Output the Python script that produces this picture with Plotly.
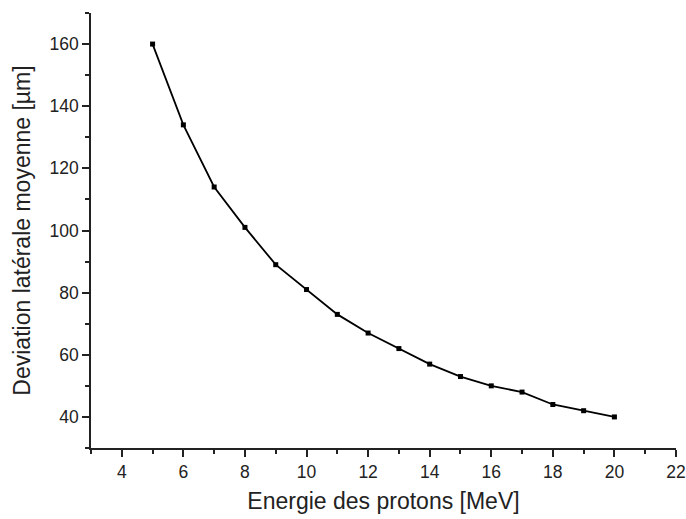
import plotly.graph_objects as go

energy = [5, 6, 7, 8, 9, 10, 11, 12, 13, 14, 15, 16, 17, 18, 19, 20]
deviation = [160, 134, 114, 101, 89, 81, 73, 67, 62, 57, 53, 50, 48, 44, 42, 40]

fig = go.Figure()
fig.add_trace(go.Scatter(
    x=energy, y=deviation, mode="lines+markers",
    line=dict(color="black", width=1.8),
    marker=dict(symbol="square", size=5, color="black"),
    showlegend=False, cliponaxis=False,
))

FONT = "Liberation Sans, Arial"
axis_common = dict(
    showline=True, linecolor="#222", linewidth=1.6,
    ticks="outside", ticklen=7, tickwidth=1.5, tickcolor="#222",
    showgrid=False, zeroline=False,
    tickfont=dict(family=FONT, size=17.5, color="#222"),
    mirror=False, automargin=False,
)

fig.update_layout(
    width=686, height=519,
    margin=dict(l=91, r=10, t=13, b=71),
    paper_bgcolor="white", plot_bgcolor="white",
    xaxis=dict(range=[3, 22], dtick=2, tick0=0,
               minor=dict(dtick=1, ticklen=4, tickwidth=1.5, tickcolor="#222", ticks="outside"),
               title=dict(text="Energie des protons [MeV]", standoff=12,
                          font=dict(family=FONT, size=23, color="#222")),
               **axis_common),
    yaxis=dict(range=[30, 170], dtick=20, tick0=0,
               minor=dict(dtick=10, ticklen=4, tickwidth=1.5, tickcolor="#222", ticks="outside"),
               title=dict(text="Deviation latérale moyenne [µm]", standoff=12,
                          font=dict(family=FONT, size=23, color="#222")),
               **axis_common),
)

fig.write_html(
    "out.html",
    config={"displayModeBar": False},
    post_script="document.body.style.margin='0';document.body.style.overflow='hidden';",
)
